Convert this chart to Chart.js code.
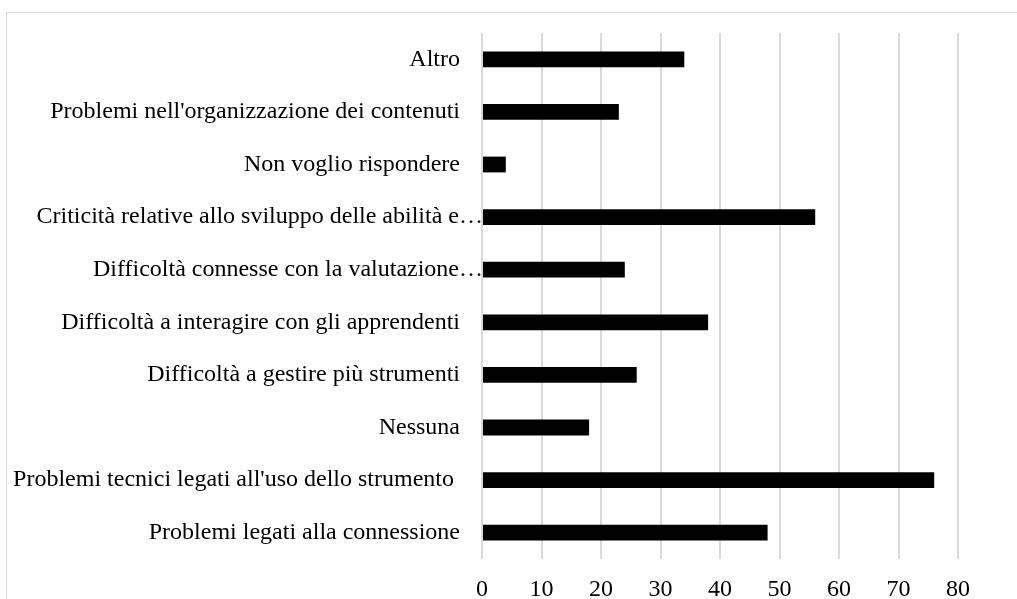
<!DOCTYPE html>
<html>
<head>
<meta charset="utf-8">
<script src="https://cdn.jsdelivr.net/npm/chart.js@4"></script>
<style>
  html, body { margin: 0; padding: 0; background: #fff; overflow: hidden; }
  #wrap { position: relative; width: 1017px; height: 599px; }
  #frame { position: absolute; left: 6px; top: 12px; width: 1100px; height: 700px; border: 1.5px solid #d9d9d9; }
  canvas { position: absolute; left: 0; top: 0; }
</style>
</head>
<body>
<div id="wrap">
  <div id="frame"></div>
  <canvas id="chart" width="1017" height="599"></canvas>
</div>
<script>
// ------------------------
// DATA
// ------------------------
const categories = [
  "Altro",
  "Problemi nell'organizzazione dei contenuti",
  "Non voglio rispondere",
  "Criticità relative allo sviluppo delle abilità e…",
  "Difficoltà connesse con la valutazione…",
  "Difficoltà a interagire con gli apprendenti",
  "Difficoltà a gestire più strumenti",
  "Nessuna",
  "Problemi tecnici legati all'uso dello strumento ",
  "Problemi legati alla connessione"
];
const counts = [34, 23, 4, 56, 24, 38, 26, 18, 76, 48];
const xTicks = [0, 10, 20, 30, 40, 50, 60, 70, 80];

const FONT = "'Liberation Serif', 'Times New Roman', serif";

// draw category labels, truncated ones run up to the axis like in Excel
const yLabels = {
  id: "yLabels",
  afterDraw(chart) {
    const { ctx, chartArea, scales } = chart;
    const y = scales.y;
    ctx.save();
    ctx.font = `24px ${FONT}`;
    ctx.fillStyle = "#000";
    ctx.textAlign = "right";
    ctx.textBaseline = "middle";
    categories.forEach((label, i) => {
      const x = label.endsWith("…") ? chartArea.left + 1 : chartArea.left - 22;
      ctx.fillText(label, x, y.getPixelForValue(i));
    });
    ctx.restore();
  }
};

new Chart(document.getElementById("chart"), {
  type: "bar",
  data: {
    labels: categories,
    datasets: [{
      data: counts,
      backgroundColor: "#000",
      borderWidth: 0,
      barPercentage: 0.3,
      categoryPercentage: 1
    }]
  },
  options: {
    indexAxis: "y",
    responsive: false,
    animation: false,
    layout: { padding: { top: 33, right: 59, bottom: -22, left: 0 } },
    plugins: {
      legend: { display: false },
      tooltip: { enabled: false }
    },
    scales: {
      x: {
        min: 0,
        max: 80,
        afterBuildTicks: (s) => { s.ticks = xTicks.map(v => ({ value: v })); },
        grid: { color: "#d9d9d9", lineWidth: 2, drawTicks: false },
        border: { display: false },
        ticks: {
          padding: 19,
          color: "#000",
          font: { family: FONT, size: 24, lineHeight: 1 }
        }
      },
      y: {
        grid: { display: false },
        border: { display: false },
        ticks: { display: false },
        afterFit: (s) => { s.width = 482; }
      }
    }
  },
  plugins: [yLabels]
});
</script>
</body>
</html>
